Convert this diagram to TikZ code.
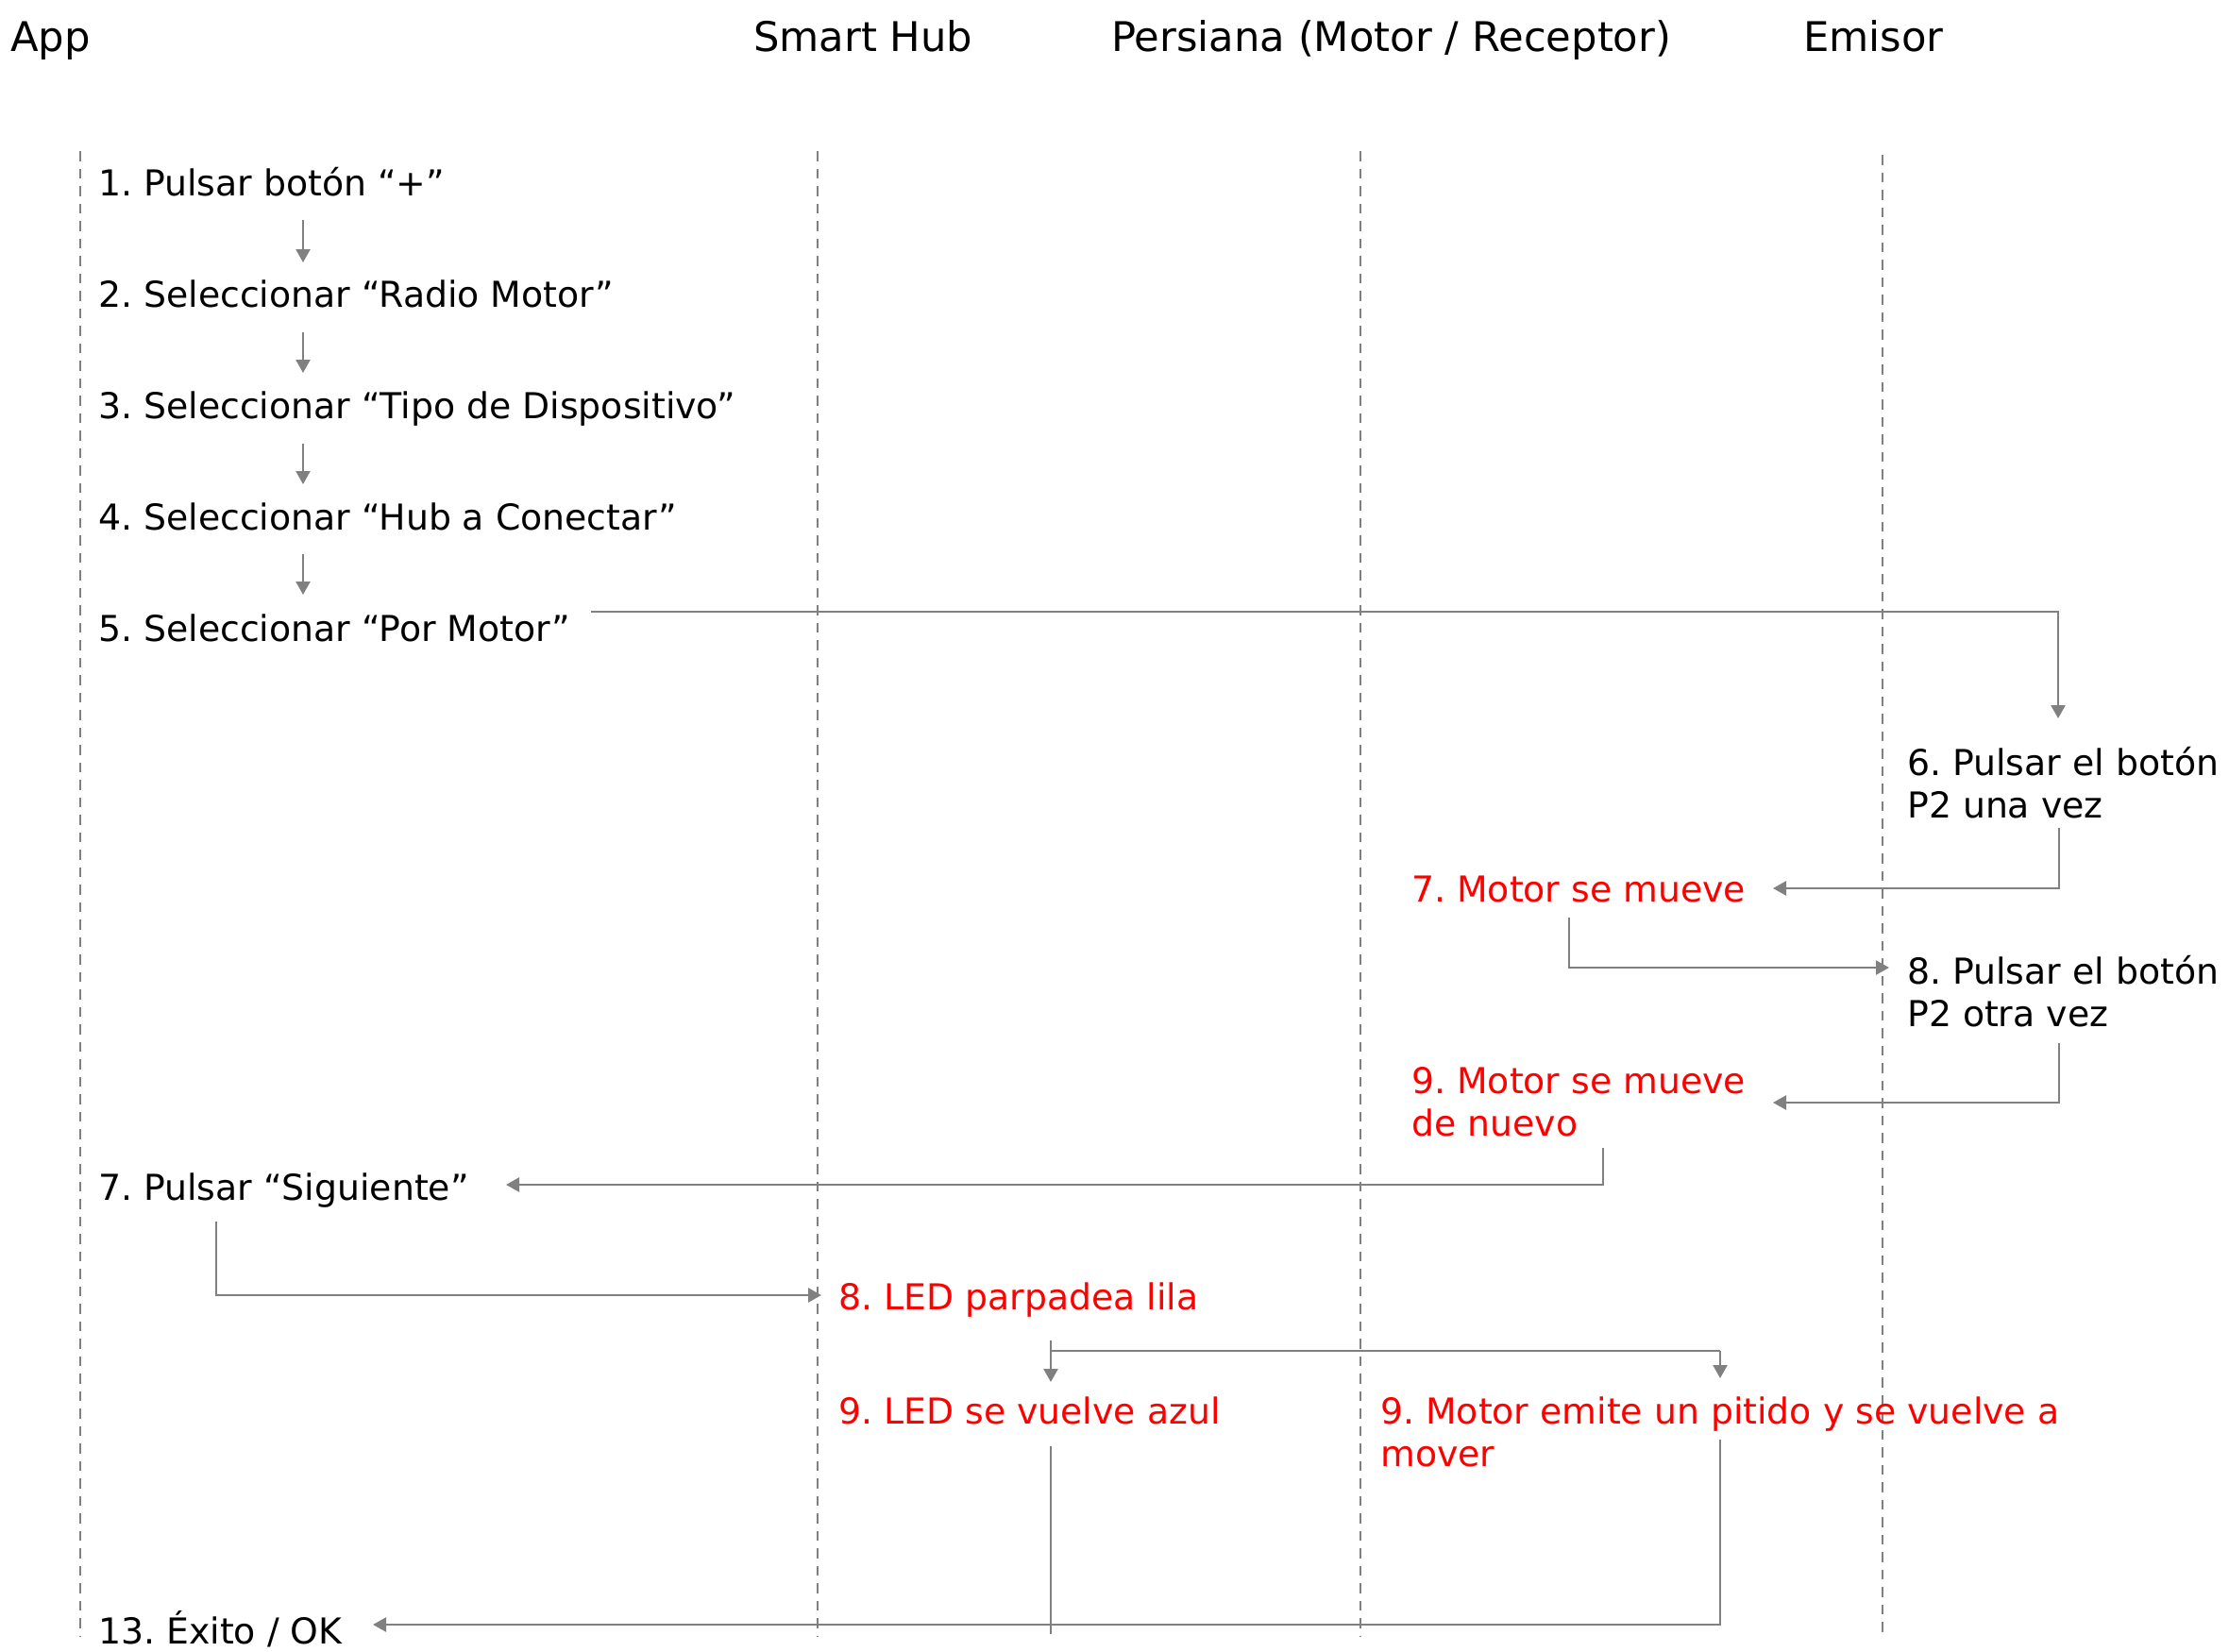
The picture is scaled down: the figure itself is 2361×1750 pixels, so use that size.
\documentclass[tikz,border=0pt]{standalone}
\usepackage{fontspec}
\setmainfont{DejaVu Sans}
\usetikzlibrary{arrows.meta}
\definecolor{linegray}{HTML}{808080}
\definecolor{stepred}{HTML}{FF0000}
\begin{document}
\frenchspacing
\begin{tikzpicture}[x=1pt,y=-1pt,
  lifeline/.style={draw=linegray, line width=2.5pt, dash pattern=on 10.5pt off 8pt},
  conn/.style={draw=linegray, line width=2.5pt, -{Triangle[length=14pt,width=15pt]}},
  plainconn/.style={draw=linegray, line width=2.5pt},
  hdr/.style={anchor=base west, inner sep=0pt, font=\fontsize{43.3}{50}\selectfont},
  txt/.style={anchor=base west, inner sep=0pt, font=\fontsize{37.8}{45}\selectfont},
  redtxt/.style={txt, text=stepred}]
\useasboundingbox (0,0) rectangle (2361,1750);

% headers
\node[hdr] (hApp) at (11,55) {App};
\node[hdr] (hHub) at (798,55) {Smart Hub};
\node[hdr] (hPer) at (1177,55) {Persiana (Motor / Receptor)};
\node[hdr] (hEmi) at (1910,55) {Emisor};

% lifelines
\coordinate (appT) at (85,160);  \coordinate (appB) at (85,1733);
\coordinate (hubT) at (866,160); \coordinate (hubB) at (866,1733);
\coordinate (perT) at (1441,160); \coordinate (perB) at (1441,1733);
\coordinate (emiT) at (1994,164); \coordinate (emiB) at (1994,1735);
\draw[lifeline] (appT) -- (appB);
\draw[lifeline] (hubT) -- (hubB);
\draw[lifeline] (perT) -- (perB);
\draw[lifeline] (emiT) -- (emiB);

% steps
\node[txt] (s1) at (104,207) {1. Pulsar botón “+”};
\node[txt] (s2) at (104,325) {2. Seleccionar “Radio Motor”};
\node[txt] (s3) at (104,443) {3. Seleccionar “Tipo de Dispositivo”};
\node[txt] (s4) at (104,561) {4. Seleccionar “Hub a Conectar”};
\node[txt] (s5) at (104,679) {5. Seleccionar “Por Motor”};
\node[txt] (s6) at (2020,821) {\vtop{\hbox{6. Pulsar el botón}\hbox{P2 una vez}}};
\node[redtxt] (s7m) at (1495,955) {7. Motor se mueve};
\node[txt] (s8) at (2020,1042) {\vtop{\hbox{8. Pulsar el botón}\hbox{P2 otra vez}}};
\node[redtxt] (s9m) at (1495,1158) {\vtop{\hbox{9. Motor se mueve}\hbox{de nuevo}}};
\node[txt] (s7a) at (104,1271) {7. Pulsar “Siguiente”};
\node[redtxt] (s8h) at (888,1387) {8. LED parpadea lila};
\node[redtxt] (s9h) at (888,1508) {9. LED se vuelve azul};
\node[redtxt] (s9e) at (1462,1508) {\vtop{\hbox{9. Motor emite un pitido y se vuelve a}\hbox{mover}}};
\node[txt] (s13) at (104,1741) {13. Éxito / OK};

% small arrows in App column
\coordinate (a1s) at (321,233); \coordinate (a1e) at (321,278);
\coordinate (a2s) at (321,352); \coordinate (a2e) at (321,395);
\coordinate (a3s) at (321,470); \coordinate (a3e) at (321,513);
\coordinate (a4s) at (321,587); \coordinate (a4e) at (321,630);
\draw[conn] (a1s) -- (a1e);
\draw[conn] (a2s) -- (a2e);
\draw[conn] (a3s) -- (a3e);
\draw[conn] (a4s) -- (a4e);

% 5 -> 6
\coordinate (b5s) at (626,648); \coordinate (b5c) at (2180,648); \coordinate (b5e) at (2180,761);
\draw[conn] (b5s) -- (b5c) -- (b5e);
% 6 -> 7 motor
\coordinate (b6s) at (2181,877); \coordinate (b6c) at (2181,941); \coordinate (b6e) at (1878,941);
\draw[conn] (b6s) -- (b6c) -- (b6e);
% 7 motor -> 8
\coordinate (b7s) at (1662,972); \coordinate (b7c) at (1662,1025); \coordinate (b7e) at (2001,1025);
\draw[conn] (b7s) -- (b7c) -- (b7e);
% 8 -> 9 motor
\coordinate (b8s) at (2181,1105); \coordinate (b8c) at (2181,1168); \coordinate (b8e) at (1878,1168);
\draw[conn] (b8s) -- (b8c) -- (b8e);
% 9 motor -> 7 Siguiente
\coordinate (b9s) at (1698,1216); \coordinate (b9c) at (1698,1255); \coordinate (b9e) at (536,1255);
\draw[conn] (b9s) -- (b9c) -- (b9e);
% 7 Siguiente -> 8 LED
\coordinate (bAs) at (229,1294); \coordinate (bAc) at (229,1372); \coordinate (bAe) at (870,1372);
\draw[conn] (bAs) -- (bAc) -- (bAe);
% 8 LED fork
\coordinate (fS) at (1113,1420); \coordinate (fL) at (1113,1431); \coordinate (fR) at (1822,1431);
\coordinate (fLe) at (1113,1464); \coordinate (fRe) at (1822,1460);
\draw[plainconn] (fS) -- (fL) -- (fR);
\draw[conn] (fL) -- (fLe);
\draw[conn] (fR) -- (fRe);
% 9 LED line
\coordinate (gS) at (1113,1532); \coordinate (gE) at (1113,1731);
\draw[plainconn] (gS) -- (gE);
% 9 Motor -> 13
\coordinate (hS) at (1822,1525); \coordinate (hC) at (1822,1721); \coordinate (hE) at (395,1721);
\draw[conn] (hS) -- (hC) -- (hE);
\end{tikzpicture}
\end{document}
